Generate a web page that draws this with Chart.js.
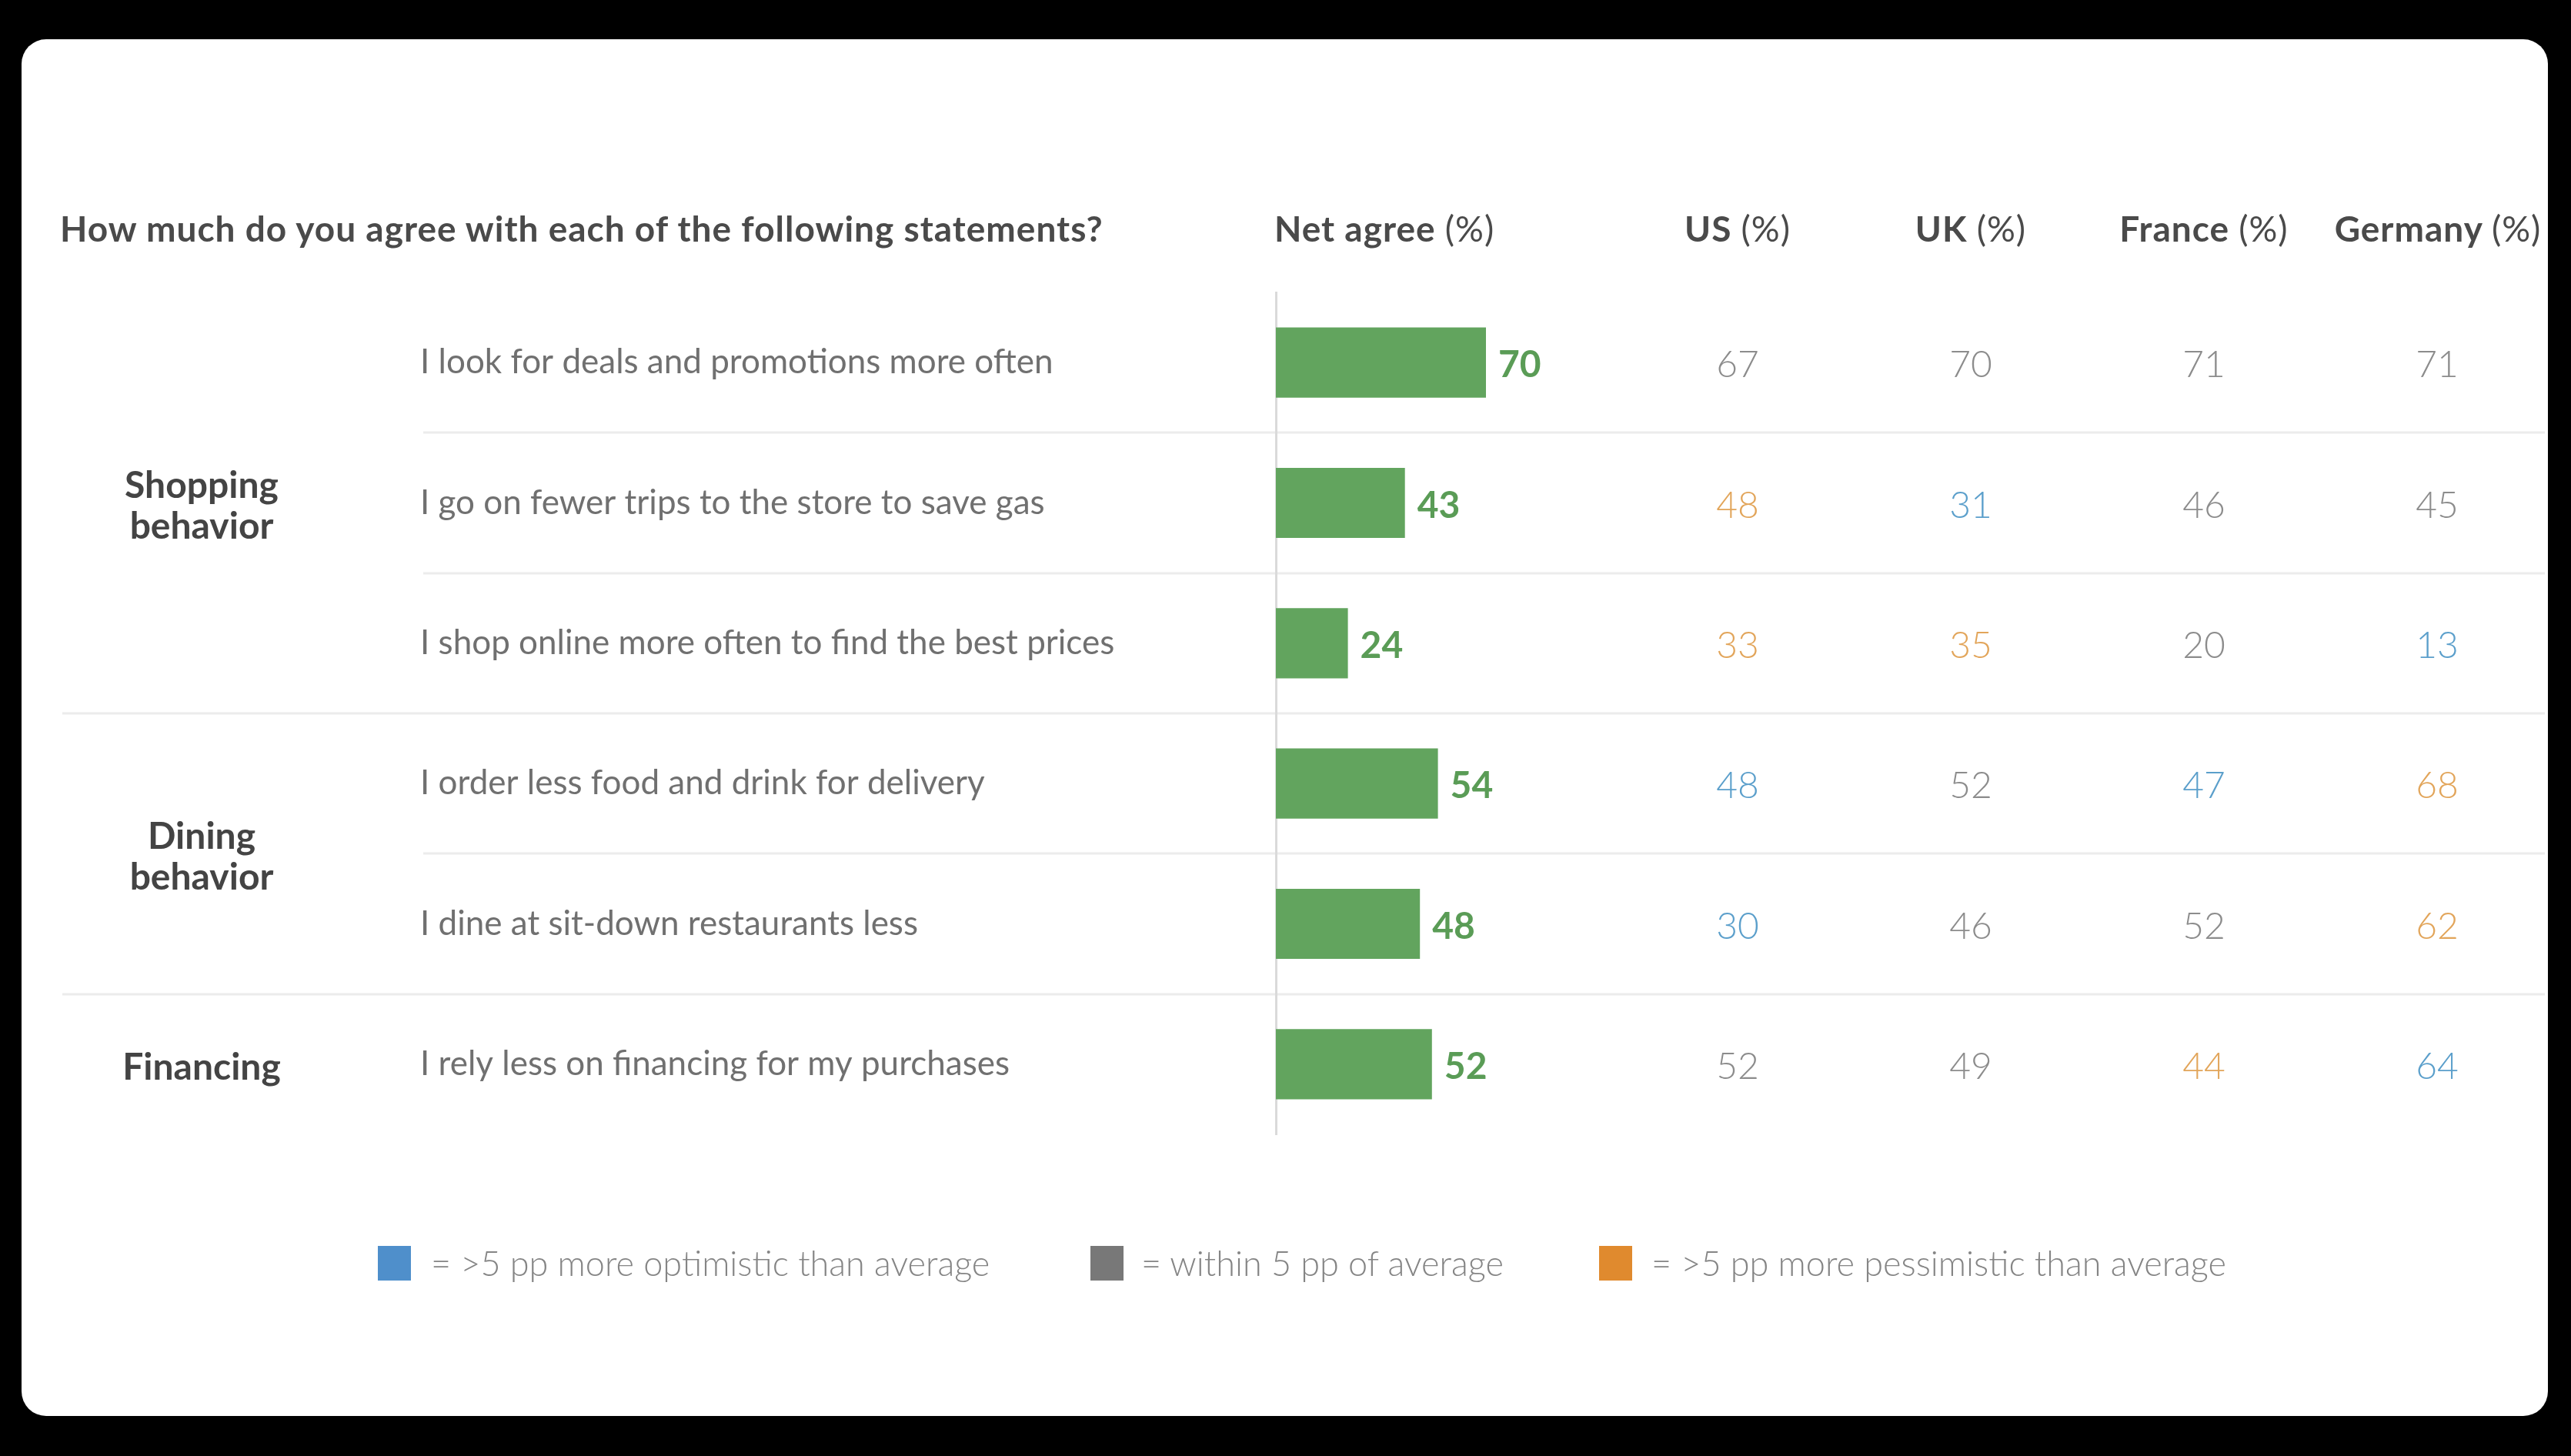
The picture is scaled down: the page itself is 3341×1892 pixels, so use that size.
<!DOCTYPE html>
<html>
<head>
<meta charset="utf-8">
<script src="https://cdn.jsdelivr.net/npm/chart.js@4.4.1/dist/chart.umd.min.js"></script>
<style>
  html, body { margin: 0; padding: 0; background: #000; }
  #wrap { position: relative; width: 3341px; height: 1892px; overflow: hidden; font-family: Lato, "Open Sans", sans-serif; }
  #chart { position: absolute; left: 0; top: 0; }
  .txt { position: absolute; white-space: nowrap; line-height: 60px; height: 60px; }
  .title { left: 78px; top: 267px; font-size: 46px; letter-spacing: 1px; font-weight: 700; color: #4a4a4a; }
  .head { top: 267px; font-size: 46px; letter-spacing: 1px; font-weight: 700; color: #4a4a4a; }
  .head span { font-weight: 400; }
  .col { width: 340px; text-align: center; }
  .sw { position: absolute; top: 1619px; width: 43px; height: 45px; }
  .leg { top: 1611px; font-size: 45px; font-weight: 300; color: #858585; }
</style>
</head>
<body>
<div id="wrap">
  <canvas id="chart" width="3341" height="1892"></canvas>
  <div class="txt title">How much do you agree with each of the following statements?</div>
  <div class="txt head" style="left:1656px">Net agree <span>(%)</span></div>
  <div class="txt head col" style="left:2088px">US <span>(%)</span></div>
  <div class="txt head col" style="left:2391px">UK <span>(%)</span></div>
  <div class="txt head col" style="left:2694px">France <span>(%)</span></div>
  <div class="txt head col" style="left:2998px">Germany <span>(%)</span></div>

  <div class="sw" style="left:491px;background:#4f8fcb"></div>
  <div class="txt leg" style="left:560px">= &gt;5 pp more optimistic than average</div>
  <div class="sw" style="left:1417px;background:#787878"></div>
  <div class="txt leg" style="left:1483px">= within 5 pp of average</div>
  <div class="sw" style="left:2078px;background:#e08a2e"></div>
  <div class="txt leg" style="left:2146px">= &gt;5 pp more pessimistic than average</div>
</div>
<script>
// rows
const statements = [
  "I look for deals and promotions more often",
  "I go on fewer trips to the store to save gas",
  "I shop online more often to find the best prices",
  "I order less food and drink for delivery",
  "I dine at sit-down restaurants less",
  "I rely less on financing for my purchases"
];
const groupNames = [["Shopping", "behavior"], ["Dining", "behavior"], ["Financing"]];
const groupOf = [0, 0, 0, 1, 1, 2];

// net agree (%)
const netAgree = [70, 43, 24, 54, 48, 52];

// country columns; tone: o = more optimistic, a = within 5 pp, p = more pessimistic
const usVals = [67, 48, 33, 48, 30, 52];
const usTone = ["a", "p", "p", "o", "o", "a"];
const ukVals = [70, 31, 35, 52, 46, 49];
const ukTone = ["a", "o", "p", "a", "a", "a"];
const frVals = [71, 46, 20, 47, 52, 44];
const frTone = ["a", "a", "a", "o", "a", "p"];
const deVals = [71, 45, 13, 68, 62, 64];
const deTone = ["a", "a", "o", "p", "p", "o"];

const toneColor = { o: "#5b9fcb", a: "#8c8c8c", p: "#e2a55a" };
const columns = [
  { vals: usVals, tone: usTone, x: 2258 },
  { vals: ukVals, tone: ukTone, x: 2561 },
  { vals: frVals, tone: frTone, x: 2864 },
  { vals: deVals, tone: deTone, x: 3167 }
];

const tablePlugin = {
  id: "table",
  beforeDraw(chart) {
    const ctx = chart.ctx;
    const y = chart.scales.y;
    ctx.save();
    ctx.fillStyle = "#000";
    ctx.fillRect(0, 0, chart.width, chart.height);
    ctx.fillStyle = "#fff";
    ctx.beginPath();
    ctx.roundRect(28, 51, 3283, 1789, 32);
    ctx.fill();

    // row separators
    ctx.strokeStyle = "#ececec";
    ctx.lineWidth = 3;
    for (let i = 0; i < statements.length - 1; i++) {
      const yy = Math.round((y.getPixelForValue(i) + y.getPixelForValue(i + 1)) / 2);
      const x0 = groupOf[i] !== groupOf[i + 1] ? 81 : 550;
      ctx.beginPath();
      ctx.moveTo(x0, yy);
      ctx.lineTo(3307, yy);
      ctx.stroke();
    }
    ctx.restore();
  },
  afterDatasetsDraw(chart) {
    const ctx = chart.ctx;
    const y = chart.scales.y;
    const bars = chart.getDatasetMeta(0).data;
    ctx.save();
    ctx.textBaseline = "alphabetic";

    statements.forEach((s, i) => {
      const ry = y.getPixelForValue(i);
      ctx.font = "400 44px Lato";
      ctx.fillStyle = "#707070";
      ctx.textAlign = "left";
      ctx.fillText(s, 546, ry + 14);

      ctx.font = "700 48px Lato";
      ctx.fillStyle = "#5a9c56";
      ctx.fillText(String(netAgree[i]), bars[i].x + 16, ry + 19);

      ctx.font = "300 48px Lato";
      ctx.textAlign = "center";
      columns.forEach((c) => {
        ctx.fillStyle = toneColor[c.tone[i]];
        ctx.fillText(String(c.vals[i]), c.x, ry + 19);
      });
    });

    // group labels
    ctx.font = "700 48px Lato";
    ctx.fillStyle = "#444";
    ctx.textAlign = "center";
    groupNames.forEach((lines, g) => {
      const rows = groupOf.map((v, i) => (v === g ? i : -1)).filter((i) => i >= 0);
      const cy = rows.reduce((a, i) => a + y.getPixelForValue(i), 0) / rows.length;
      const top = cy - ((lines.length - 1) * 53) / 2;
      lines.forEach((t, k) => ctx.fillText(t, 262, top + k * 53 + 20));
    });
    ctx.restore();
  }
};

new Chart(document.getElementById("chart"), {
  type: "bar",
  data: {
    labels: statements,
    datasets: [{
      data: netAgree,
      backgroundColor: "#62a45e",
      borderWidth: 0,
      categoryPercentage: 1,
      barPercentage: 0.5
    }]
  },
  options: {
    indexAxis: "y",
    responsive: false,
    animation: false,
    events: [],
    layout: { padding: { left: 1658, right: 1293, top: 380, bottom: 418 } },
    plugins: { legend: { display: false }, tooltip: { enabled: false } },
    scales: {
      x: { display: false, min: 0, max: 100 },
      y: {
        display: true,
        ticks: { display: false },
        grid: { display: false, drawTicks: false },
        border: { display: true, color: "#dadada", width: 3 }
      }
    }
  },
  plugins: [tablePlugin]
});
</script>
</body>
</html>
